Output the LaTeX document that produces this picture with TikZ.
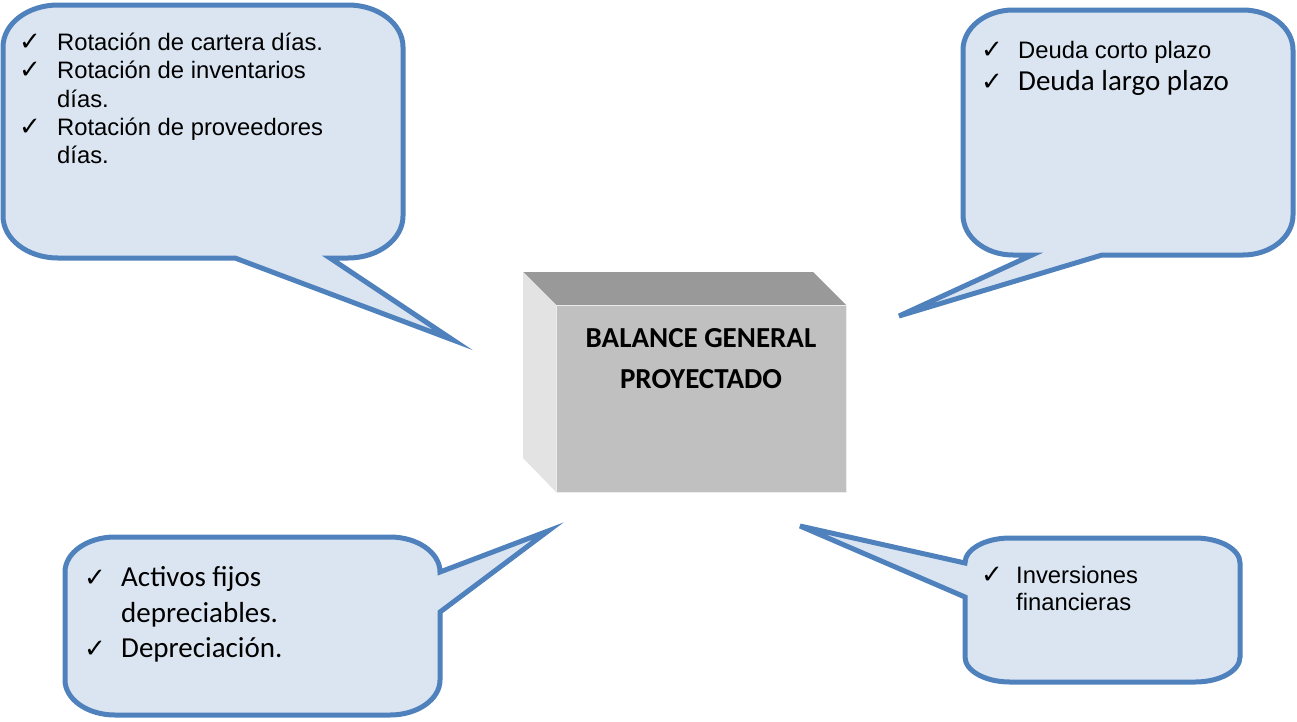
\documentclass[tikz,border=0pt]{standalone}
\usepackage{fontspec}
\newfontfamily\arialf{Liberation Sans}
\newfontfamily\calib{Carlito}
\newfontfamily\symf{DejaVu Sans}
\definecolor{cstroke}{HTML}{4F81BD}
\definecolor{cfill}{HTML}{DBE5F1}
\definecolor{boxtop}{HTML}{999999}
\definecolor{boxleft}{HTML}{E3E3E3}
\definecolor{boxfront}{HTML}{C0C0C0}
\begin{document}
\begin{tikzpicture}[x=1pt,y=-1pt,
  callout/.style={draw=cstroke,fill=cfill,line width=5pt},
  arialtxt/.style={font=\arialf\fontsize{23.8}{28}\selectfont,anchor=base west,inner sep=0pt},
  calibtxt/.style={font=\calib\fontsize{29}{35}\selectfont,anchor=base west,inner sep=0pt},
  chk/.style={font=\symf\fontsize{26}{27}\selectfont,anchor=base west,inner sep=0pt},
  boxtxt/.style={font=\calib\bfseries\fontsize{29}{35}\selectfont,anchor=base,inner sep=0pt}]
\useasboundingbox (0,0) rectangle (1297,721);

% top-left callout
\draw[callout] (58,5) -- (348,5) arc[start angle=270,end angle=360,x radius=55,y radius=42]
  -- (403,216) arc[start angle=0,end angle=90,x radius=55,y radius=42]
  -- (330,258) -- (453,340) -- (235,258) -- (58,258)
  arc[start angle=90,end angle=180,x radius=55,y radius=42]
  -- (3,47) arc[start angle=180,end angle=270,x radius=55,y radius=42] -- cycle;
\node[chk] (c1) at (19,50) {✓};
\node[arialtxt] (t1) at (57,50) {Rotación de cartera días.};
\node[chk] (c2) at (19,78) {✓};
\node[arialtxt] (t2) at (57,78) {Rotación de inventarios};
\node[arialtxt] (t3) at (57,107) {días.};
\node[chk] (c3) at (19,135) {✓};
\node[arialtxt] (t4) at (57,135) {Rotación de proveedores};
\node[arialtxt] (t5) at (57,163) {días.};

% top-right callout
\draw[callout] (1013,10) -- (1243,10) arc[start angle=270,end angle=360,x radius=50,y radius=40]
  -- (1293,215) arc[start angle=0,end angle=90,x radius=50,y radius=40]
  -- (1102,255) -- (899,316) -- (1032,255) -- (1013,255)
  arc[start angle=90,end angle=180,x radius=50,y radius=40]
  -- (963,50) arc[start angle=180,end angle=270,x radius=50,y radius=40] -- cycle;
\node[chk] (c4) at (981,58) {✓};
\node[arialtxt] (t6) at (1018,58) {Deuda corto plazo};
\node[chk] (c5) at (981,90) {✓};
\node[calibtxt] (t7) at (1018,90) {Deuda largo plazo};

% bottom-left callout
\draw[callout] (115,537) -- (390,537) arc[start angle=270,end angle=360,x radius=50,y radius=35]
  -- (548,531) -- (440,612) -- (440,680)
  arc[start angle=0,end angle=90,x radius=50,y radius=35]
  -- (115,715) arc[start angle=90,end angle=180,x radius=50,y radius=35]
  -- (65,572) arc[start angle=180,end angle=270,x radius=50,y radius=35] -- cycle;
\node[chk] (c6) at (84,586) {✓};
\node[calibtxt] (t8) at (121,586) {Activos fijos};
\node[calibtxt] (t9) at (121,622) {depreciables.};
\node[chk] (c7) at (84,657) {✓};
\node[calibtxt] (t10) at (121,657) {Depreciación.};

% bottom-right callout
\draw[callout] (1010,538) -- (1195,538) arc[start angle=270,end angle=360,x radius=45,y radius=25]
  -- (1240,657) arc[start angle=0,end angle=90,x radius=45,y radius=25]
  -- (1010,682) arc[start angle=90,end angle=180,x radius=45,y radius=25]
  -- (965,597) -- (800,526) -- (965,563)
  arc[start angle=180,end angle=270,x radius=45,y radius=25] -- cycle;
\node[chk] (c8) at (981,583) {✓};
\node[arialtxt] (t11) at (1016,583) {Inversiones};
\node[arialtxt] (t12) at (1016,610) {financieras};

% central 3D box
\fill[boxtop] (523,272) -- (813,272) -- (846,305) -- (556,305) -- cycle;
\fill[boxleft] (523,272) -- (556,305) -- (556,492) -- (523,458) -- cycle;
\fill[boxfront] (556,305) rectangle (846,492);
\draw[white!85!gray,line width=1pt] (556,305) rectangle (846,492);
\node[boxtxt] (b1) at (701,347) {BALANCE GENERAL};
\node[boxtxt] (b2) at (701,388) {PROYECTADO};
\end{tikzpicture}
\end{document}
